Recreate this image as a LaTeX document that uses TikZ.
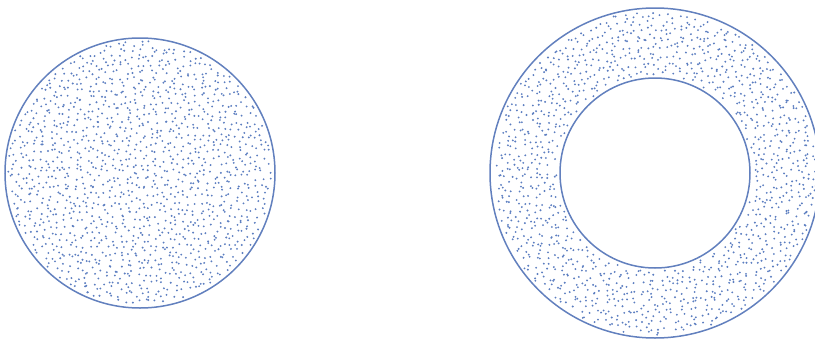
\documentclass[tikz,border=0pt]{standalone}
\definecolor{ringblue}{RGB}{98,128,190}
\definecolor{dotblue}{RGB}{92,126,192}
\tikzset{
  rim/.style={draw=ringblue, line width=1.5pt},
  dotmark/.style={fill=dotblue},
}
\begin{document}
\begin{tikzpicture}[x=1pt,y=-1pt]
\useasboundingbox (0,0) rectangle (815,338);
\clip (0,0) rectangle (815,338);
\pgfmathsetseed{4242}
% left disc dots (jittered grid)
\foreach \i in {0,...,43}{
  \foreach \j in {0,...,43}{
    \pgfmathsetmacro\px{5+\i*6.2+6.2*rnd}
    \pgfmathsetmacro\py{38+\j*6.2+6.2*rnd}
    \pgfmathsetmacro\dd{veclen(\px-140,\py-173)}
    \ifdim\dd pt<132pt
      \fill[dotmark] (\px,\py) circle[radius=1.05pt];
    \fi
  }
}
% annulus dots (jittered grid)
\foreach \i in {0,...,53}{
  \foreach \j in {0,...,53}{
    \pgfmathsetmacro\px{490+\i*6.2+6.2*rnd}
    \pgfmathsetmacro\py{8+\j*6.2+6.2*rnd}
    \pgfmathsetmacro\dd{veclen(\px-655,\py-173)}
    \ifdim\dd pt<162pt
      \ifdim\dd pt>98pt
        \fill[dotmark] (\px,\py) circle[radius=1.05pt];
      \fi
    \fi
  }
}
\node[rim, circle, minimum size=270pt, inner sep=0pt] (disc) at (140,173) {};
\node[rim, circle, minimum size=330pt, inner sep=0pt] (outer) at (655,173) {};
\node[rim, circle, minimum size=190pt, inner sep=0pt] (inner) at (655,173) {};
\end{tikzpicture}
\end{document}
